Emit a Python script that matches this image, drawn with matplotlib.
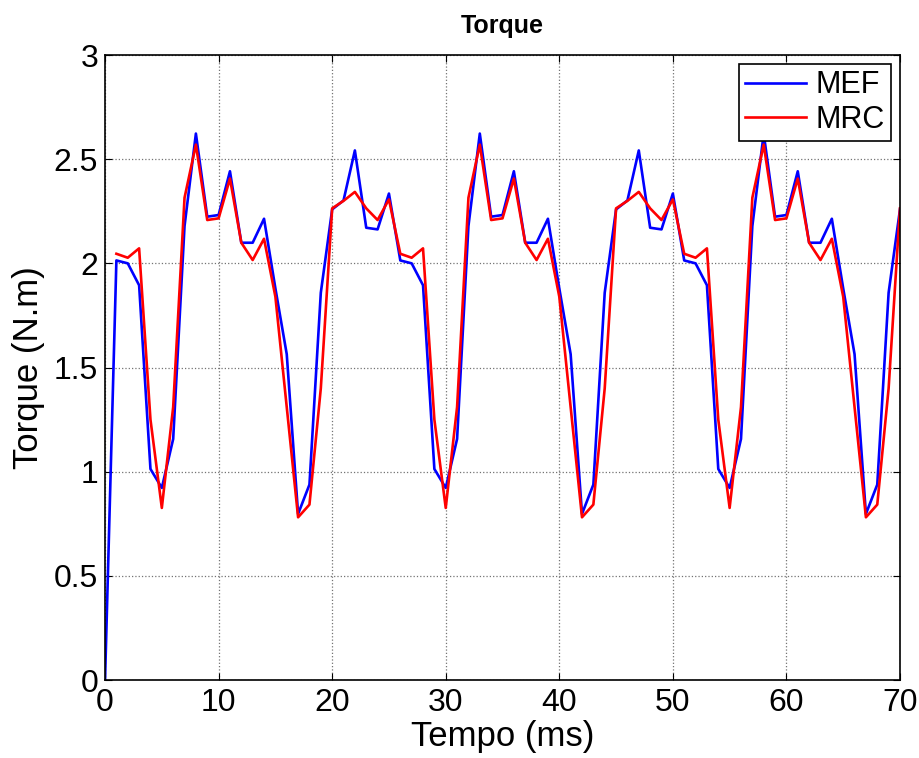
import matplotlib
matplotlib.use("Agg")
import matplotlib.pyplot as plt

plt.rcParams['font.family'] = ['Liberation Sans', 'DejaVu Sans']

# Time (ms)
t_mef = list(range(0, 71))
t_mrc = list(range(1, 71))

mef = [0.000,
       2.014, 2.000, 1.895, 1.013, 0.922, 1.157, 2.179, 2.623, 2.224, 2.232,
       2.442, 2.099, 2.099, 2.214, 1.880, 1.564, 0.797, 0.938, 1.859, 2.259,
       2.302, 2.542, 2.171, 2.163, 2.335,
       2.014, 2.000, 1.895, 1.013, 0.922, 1.157, 2.179, 2.623, 2.224, 2.232,
       2.442, 2.099, 2.099, 2.214, 1.880, 1.564, 0.797, 0.938, 1.859, 2.259,
       2.302, 2.542, 2.171, 2.163, 2.335,
       2.014, 2.000, 1.895, 1.013, 0.922, 1.157, 2.179, 2.623, 2.224, 2.232,
       2.442, 2.099, 2.099, 2.214, 1.880, 1.564, 0.797, 0.938, 1.859, 2.259]

mrc = [2.046, 2.027, 2.072, 1.250, 0.826, 1.310, 2.315, 2.570, 2.208, 2.216,
       2.407, 2.099, 2.016, 2.118, 1.840, 1.310, 0.781, 0.842, 1.400, 2.264,
       2.300, 2.343, 2.264, 2.208, 2.307,
       2.046, 2.027, 2.072, 1.250, 0.826, 1.310, 2.315, 2.570, 2.208, 2.216,
       2.407, 2.099, 2.016, 2.118, 1.840, 1.310, 0.781, 0.842, 1.400, 2.264,
       2.300, 2.343, 2.264, 2.208, 2.307,
       2.046, 2.027, 2.072, 1.250, 0.826, 1.310, 2.315, 2.570, 2.208, 2.216,
       2.407, 2.099, 2.016, 2.118, 1.840, 1.310, 0.781, 0.842, 1.400, 2.264]

xticks = [0, 10, 20, 30, 40, 50, 60, 70]
yticks = [0, 0.5, 1, 1.5, 2, 2.5, 3]
ytick_labels = ['0', '0.5', '1', '1.5', '2', '2.5', '3']

fig = plt.figure(figsize=(9.19, 7.58), dpi=100)
ax = fig.add_axes([0.1143, 0.1029, 0.8650, 0.8245])

ax.plot(t_mef, mef, color='#0000ff', lw=1.9, label='MEF')
ax.plot(t_mrc, mrc, color='#ff0000', lw=1.9, label='MRC')

ax.set_xlim(0, 70)
ax.set_ylim(0, 3)
ax.set_xticks(xticks)
ax.set_yticks(yticks)
ax.set_yticklabels(ytick_labels)
ax.tick_params(direction='in', top=True, right=True, labelsize=23, length=5, width=0.8)
ax.tick_params(axis='x', pad=6)
ax.tick_params(axis='y', pad=5)
ax.grid(True, color='0.45', linestyle=':', linewidth=0.9)
for s in ax.spines.values():
    s.set_linewidth(1.2)

ax.set_xlabel('Tempo (ms)', fontsize=25, labelpad=1)
ax.set_ylabel('Torque (N.m)', fontsize=25, labelpad=6)
ax.set_title('Torque', fontsize=18, fontweight='bold', pad=16)

leg = ax.legend(loc='upper right', fontsize=22, frameon=True, fancybox=False,
                edgecolor='black', framealpha=1, borderpad=0.2, handlelength=2.0,
                labelspacing=0.15, handletextpad=0.3, borderaxespad=0.3)
leg.get_frame().set_linewidth(1.2)

fig.savefig('out.png', dpi=100)
